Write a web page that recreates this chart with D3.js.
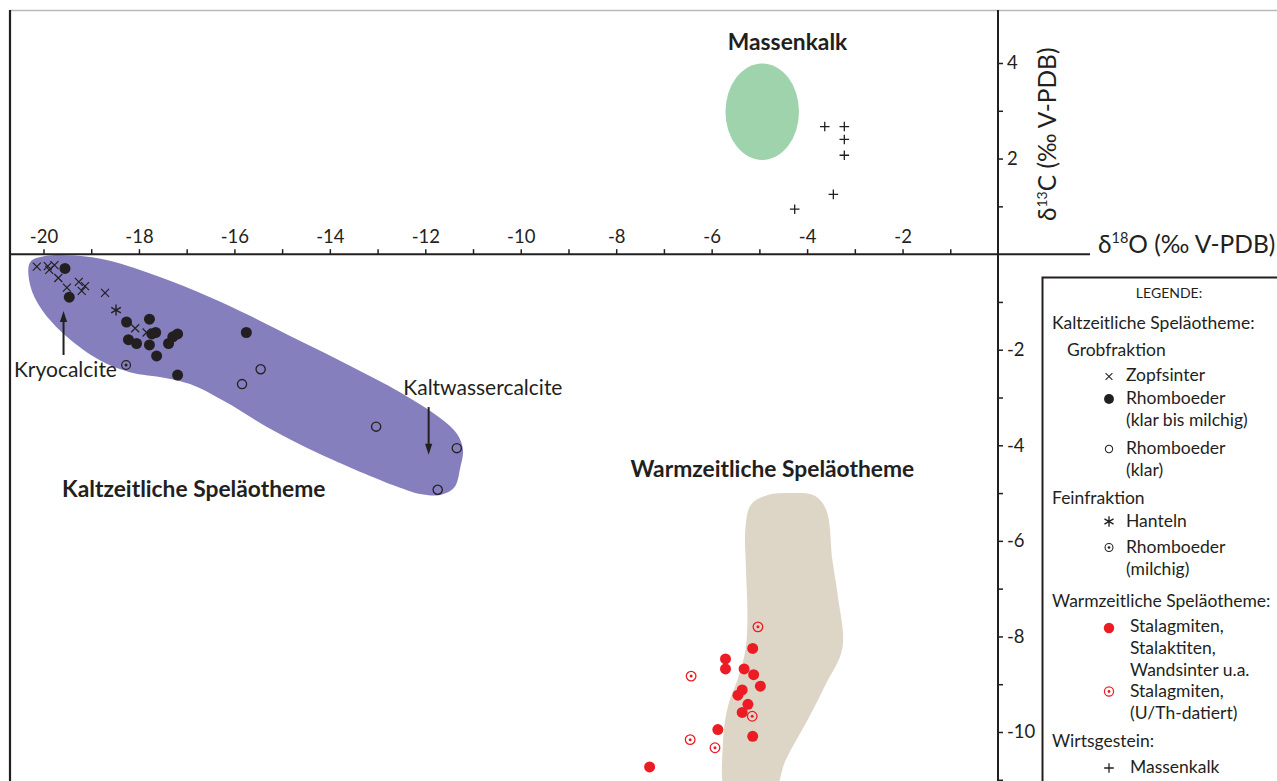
<!DOCTYPE html>
<html>
<head>
<meta charset="utf-8">
<script src="https://cdn.jsdelivr.net/npm/d3@7"></script>
<style>
  html, body { margin: 0; padding: 0; background: #fff; overflow: hidden; }
  svg { display: block; font-family: Lato, "Open Sans", sans-serif; }
</style>
</head>
<body>
<svg id="chart" width="1277" height="781"></svg>
<script>
// δ18O / δ13C values (‰ V-PDB) of cave carbonates

// Kaltzeitliche Speläotheme, Grobfraktion
const zopfsinter = [
  [-20.14, -0.26], [-19.91, -0.25], [-19.77, -0.23], [-19.88, -0.33],
  [-19.69, -0.50], [-19.51, -0.70], [-19.26, -0.58], [-19.13, -0.67],
  [-19.20, -0.77], [-18.71, -0.81], [-18.08, -1.55], [-17.84, -1.64]
];
const rhomboederKlarMilchig = [
  [-19.55, -0.30], [-19.46, -0.90], [-18.26, -1.42], [-17.78, -1.36],
  [-18.22, -1.79], [-18.05, -1.87], [-17.78, -1.90], [-17.73, -1.67],
  [-17.65, -1.64], [-17.38, -1.87], [-17.29, -1.73], [-17.19, -1.67],
  [-17.63, -2.13], [-17.19, -2.53], [-15.75, -1.64]
];
const rhomboederKlar = [
  [-15.45, -2.41], [-15.84, -2.72], [-13.03, -3.61], [-11.34, -4.06], [-11.74, -4.93]
];
// Kaltzeitliche Speläotheme, Feinfraktion
const hanteln = [[-18.48, -1.17]];
const rhomboederMilchig = [[-18.27, -2.32]];

// Warmzeitliche Speläotheme
const stalagmiten = [
  [-5.14, -8.25], [-5.71, -8.47], [-5.71, -8.68], [-5.32, -8.68],
  [-5.12, -8.80], [-4.98, -9.04], [-5.36, -9.12], [-5.45, -9.23],
  [-5.24, -9.42], [-5.36, -9.59], [-5.87, -9.95], [-5.14, -10.09],
  [-7.30, -10.73]
];
const stalagmitenUTh = [
  [-5.03, -7.80], [-6.43, -8.83], [-5.15, -9.67], [-6.45, -10.16], [-5.93, -10.33]
];

// Wirtsgestein
const massenkalk = [
  [-3.63, 2.67], [-3.22, 2.67], [-3.22, 2.40], [-3.22, 2.07], [-3.45, 1.25], [-4.26, 0.94]
];

// Fields outlining each group (δ18O, δ13C)
const kaltField = [
  [-20.28, -0.17], [-19.97, -0.04], [-19.34, -0.03], [-18.61, -0.14],
  [-17.56, -0.48], [-16.51, -0.90], [-15.67, -1.29], [-14.62, -1.82],
  [-13.57, -2.34], [-12.53, -2.89], [-11.69, -3.43], [-11.33, -3.77],
  [-11.21, -4.10], [-11.27, -4.48], [-11.39, -4.88], [-11.69, -5.04],
  [-12.11, -5.02], [-12.53, -4.89], [-13.93, -4.31], [-15.31, -3.62],
  [-16.19, -3.09], [-16.93, -2.72], [-17.45, -2.59], [-18.19, -2.47],
  [-18.82, -2.22], [-19.51, -1.73], [-20.03, -1.17], [-20.28, -0.65]
];
const warmField = [
  [-5.29, -5.70], [-5.18, -5.25], [-4.85, -5.05], [-4.35, -5.00],
  [-3.85, -5.05], [-3.60, -5.35], [-3.47, -6.40], [-3.36, -7.13],
  [-3.26, -8.24], [-3.62, -9.02], [-3.99, -9.75], [-4.45, -10.59],
  [-4.77, -11.40], [-5.65, -11.40], [-5.76, -10.17], [-5.65, -9.43],
  [-5.46, -8.91], [-5.29, -8.28], [-5.25, -7.55], [-5.28, -6.61]
];
const massenkalkCenter = [-4.94, 2.98];
const massenkalkRadii = [0.77, 1.01];

// Axis ticks
const xTickValues = d3.range(-20, 0);
const xTickLabels = [-20, -18, -16, -14, -12, -10, -8, -6, -4, -2];
const yTickValues = d3.range(-11, 5).filter(v => v !== 0);
const yTickLabels = [-10, -8, -6, -4, -2, 2, 4];

// ------------------------------------------------------------------
const W = 1277, H = 781;
const ink = "#231f20", red = "#ed1c24";
const svg = d3.select("#chart");

const x = d3.scaleLinear().domain([-20, 0]).range([43.5, 998]);
const y = d3.scaleLinear().domain([-10, 4]).range([732, 63]);

// frame
svg.append("line").attr("x1", 10).attr("x2", W).attr("y1", 10.5).attr("y2", 10.5)
  .attr("stroke", "#b8b8b8").attr("stroke-width", 1.5);
svg.append("line").attr("x1", 10).attr("x2", 10).attr("y1", 10).attr("y2", H)
  .attr("stroke", ink).attr("stroke-width", 2.2);

// fields
const outline = d3.line().x(d => x(d[0])).y(d => y(d[1])).curve(d3.curveCatmullRomClosed.alpha(0.5));
svg.append("path").datum(kaltField).attr("d", outline).attr("fill", "#8580bd");
svg.append("path").datum(warmField).attr("d", outline).attr("fill", "#ddd6c7");
svg.append("ellipse")
  .attr("cx", x(massenkalkCenter[0])).attr("cy", y(massenkalkCenter[1]))
  .attr("rx", x(massenkalkCenter[0] + massenkalkRadii[0]) - x(massenkalkCenter[0]))
  .attr("ry", y(massenkalkCenter[1] - massenkalkRadii[1]) - y(massenkalkCenter[1]))
  .attr("fill", "#9ed3ac");

// axes
const gx = svg.append("g")
  .attr("transform", `translate(0,${y(0)})`)
  .call(d3.axisTop(x).tickValues(xTickValues).tickSize(5).tickPadding(6)
    .tickFormat(d => xTickLabels.includes(d) ? String(d) : ""));
gx.select(".domain").remove();
gx.selectAll(".tick line").attr("stroke", ink).attr("stroke-width", 1.5);
gx.selectAll(".tick text").attr("fill", ink).style("font-family", "Lato, sans-serif").style("font-size", "18.5px");

const gy = svg.append("g")
  .attr("transform", `translate(${x(0)},0)`)
  .call(d3.axisRight(y).tickValues(yTickValues).tickSize(5).tickPadding(4)
    .tickFormat(d => yTickLabels.includes(d) ? String(d) : ""));
gy.select(".domain").remove();
gy.selectAll(".tick line").attr("stroke", ink).attr("stroke-width", 1.5);
gy.selectAll(".tick text").attr("fill", ink).style("font-family", "Lato, sans-serif").style("font-size", "18.5px");

svg.append("line").attr("x1", 10).attr("x2", 1090).attr("y1", y(0)).attr("y2", y(0))
  .attr("stroke", ink).attr("stroke-width", 2);
svg.append("line").attr("x1", x(0)).attr("x2", x(0)).attr("y1", 10).attr("y2", H)
  .attr("stroke", ink).attr("stroke-width", 2);

// axis titles
const xt = svg.append("text").attr("x", 1098).attr("y", 253)
  .attr("fill", ink).style("font-size", "24.5px");
xt.append("tspan").text("δ");
xt.append("tspan").attr("dy", -10).style("font-size", "14.5px").text("18");
xt.append("tspan").attr("dy", 10).text("O (‰ V-PDB)");

const yt = svg.append("text").attr("transform", "translate(1056,221) rotate(-90)")
  .attr("fill", ink).style("font-size", "24.5px");
yt.append("tspan").text("δ");
yt.append("tspan").attr("dy", -9).style("font-size", "14px").text("13");
yt.append("tspan").attr("dy", 9).text("C (‰ V-PDB)");

// point symbols
function drawSymbol(g, type, k = 1) {
  const s = k === 1 ? g : g.append("g").attr("transform", `scale(${k})`);
  switch (type) {
    case "x":
      s.append("path").attr("d", "M-4,-4L4,4M-4,4L4,-4")
        .attr("stroke", ink).attr("stroke-width", 1.2).attr("fill", "none");
      break;
    case "dot":
      s.append("circle").attr("r", 5.5).attr("fill", ink);
      break;
    case "ring":
      s.append("circle").attr("r", 4.6).attr("fill", "none").attr("stroke", ink).attr("stroke-width", 1.3);
      break;
    case "star":
      s.append("path").attr("d", "M0,-5.5V5.5M-4.8,-2.75L4.8,2.75M-4.8,2.75L4.8,-2.75")
        .attr("stroke", ink).attr("stroke-width", 1.4).attr("fill", "none");
      break;
    case "ringdot":
      s.append("circle").attr("r", 4.4).attr("fill", "none").attr("stroke", ink).attr("stroke-width", 1.2);
      s.append("circle").attr("r", 1.5).attr("fill", ink);
      break;
    case "reddot":
      s.append("circle").attr("r", 5.5).attr("fill", red);
      break;
    case "redringdot":
      s.append("circle").attr("r", 4.8).attr("fill", "none").attr("stroke", red).attr("stroke-width", 1.3);
      s.append("circle").attr("r", 1.5).attr("fill", red);
      break;
    case "plus":
      s.append("path").attr("d", "M-4.8,0H4.8M0,-4.8V4.8")
        .attr("stroke", ink).attr("stroke-width", 1.3).attr("fill", "none");
      break;
  }
}

function plotSeries(data, type) {
  svg.append("g").selectAll("g").data(data).join("g")
    .attr("transform", d => `translate(${x(d[0])},${y(d[1])})`)
    .each(function () { drawSymbol(d3.select(this), type); });
}
plotSeries(zopfsinter, "x");
plotSeries(rhomboederKlarMilchig, "dot");
plotSeries(rhomboederKlar, "ring");
plotSeries(hanteln, "star");
plotSeries(rhomboederMilchig, "ringdot");
plotSeries(stalagmiten, "reddot");
plotSeries(stalagmitenUTh, "redringdot");
plotSeries(massenkalk, "plus");

// group labels
function label(text, px, py, opts = {}) {
  return svg.append("text").attr("x", x(px)).attr("y", y(py))
    .attr("fill", ink)
    .attr("text-anchor", opts.anchor || "start")
    .style("font-size", (opts.size || 21) + "px")
    .style("font-weight", opts.bold ? 700 : 400)
    .text(text);
}
label("Massenkalk", -4.41, 4.27, { anchor: "middle", bold: true, size: 22.8 });
label("Kaltzeitliche Speläotheme", -19.61, -5.08, { bold: true, size: 22.8 });
label("Warmzeitliche Speläotheme", -7.70, -4.66, { bold: true, size: 22.8 });
label("Kryocalcite", -20.62, -2.57);
label("Kaltwassercalcite", -12.46, -2.95);

// annotation arrows
function arrow(px, fromY, toY) {
  const x0 = x(px), y0 = y(fromY), y1 = y(toY);
  const dir = Math.sign(y1 - y0);
  svg.append("line").attr("x1", x0).attr("x2", x0).attr("y1", y0).attr("y2", y1 - dir * 8)
    .attr("stroke", ink).attr("stroke-width", 2);
  svg.append("path")
    .attr("d", `M${x0},${y1}L${x0 - 3.6},${y1 - dir * 11}L${x0 + 3.6},${y1 - dir * 11}Z`)
    .attr("fill", ink);
}
arrow(-19.58, -2.11, -1.19);
arrow(-11.93, -3.20, -4.20);

// legend
const lg = svg.append("g");
lg.append("rect").attr("x", 1042.5).attr("y", 277.5).attr("width", 260).attr("height", 520)
  .attr("fill", "#fff").attr("stroke", ink).attr("stroke-width", 2);

const legendRows = [
  { t: "LEGENDE:", x: 1169, y: 298, size: 14, anchor: "middle" },
  { t: "Kaltzeitliche Speläotheme:", x: 1052, y: 329 },
  { t: "Grobfraktion", x: 1067, y: 356 },
  { t: "Zopfsinter", x: 1126, y: 381, sym: "x", sy: 376.5, k: 0.85 },
  { t: "Rhomboeder", x: 1126, y: 404, sym: "dot", sy: 399, k: 0.9 },
  { t: "(klar bis milchig)", x: 1126, y: 426 },
  { t: "Rhomboeder", x: 1126, y: 454, sym: "ring", sy: 449, k: 0.8 },
  { t: "(klar)", x: 1126, y: 476 },
  { t: "Feinfraktion", x: 1052, y: 504 },
  { t: "Hanteln", x: 1126, y: 527, sym: "star", sy: 521.5, k: 0.95 },
  { t: "Rhomboeder", x: 1126, y: 553, sym: "ringdot", sy: 547.5, k: 0.9 },
  { t: "(milchig)", x: 1126, y: 575 },
  { t: "Warmzeitliche Speläotheme:", x: 1052, y: 607 },
  { t: "Stalagmiten,", x: 1130, y: 632, sym: "reddot", sy: 628, k: 0.95 },
  { t: "Stalaktiten,", x: 1130, y: 654 },
  { t: "Wandsinter u.a.", x: 1130, y: 676 },
  { t: "Stalagmiten,", x: 1130, y: 697, sym: "redringdot", sy: 691.5, k: 0.95 },
  { t: "(U/Th-datiert)", x: 1130, y: 719 },
  { t: "Wirtsgestein:", x: 1052, y: 747 },
  { t: "Massenkalk", x: 1130, y: 773, sym: "plus", sy: 768, k: 1 }
];
legendRows.forEach(r => {
  lg.append("text").attr("x", r.x).attr("y", r.y).attr("fill", ink)
    .attr("text-anchor", r.anchor || "start")
    .style("font-size", (r.size || 17.5) + "px").text(r.t);
  if (r.sym) {
    const g = lg.append("g").attr("transform", `translate(1109,${r.sy})`);
    drawSymbol(g, r.sym, r.k);
  }
});
</script>
</body>
</html>
